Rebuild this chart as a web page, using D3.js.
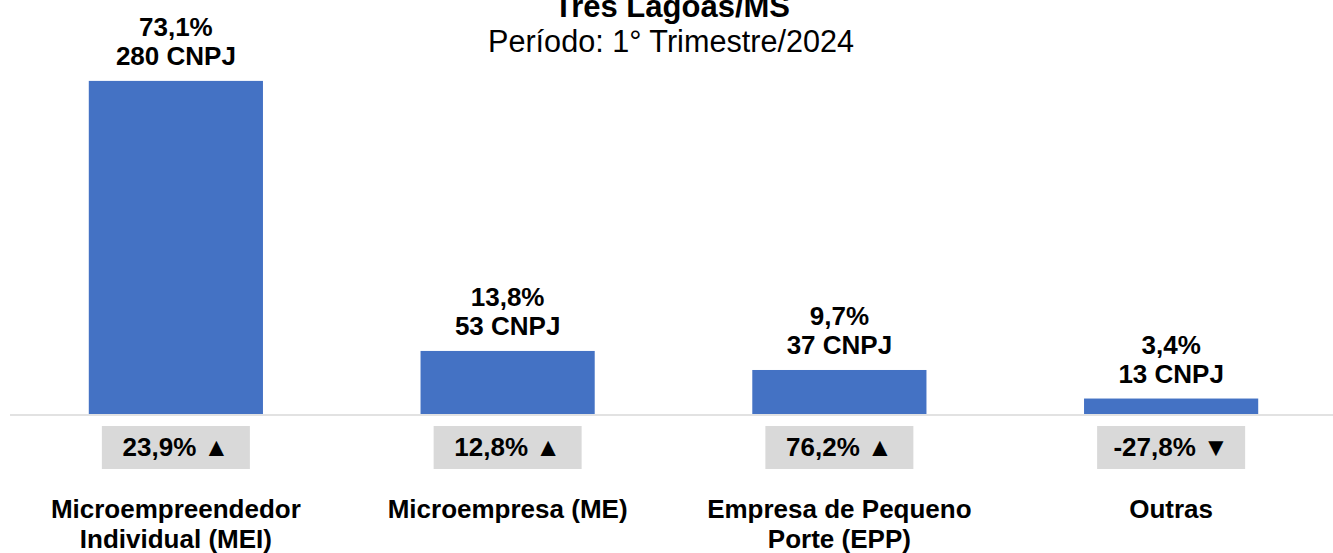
<!DOCTYPE html>
<html>
<head>
<meta charset="utf-8">
<script src="https://cdn.jsdelivr.net/npm/d3@7"></script>
<style>
  body { margin: 0; background: #fff; }
  text { font-family: "Liberation Sans", Arial, sans-serif; fill: #000; }
</style>
</head>
<body>
<svg id="chart"></svg>
<script>
// data
var categories = ["Microempreendedor Individual (MEI)", "Microempresa (ME)", "Empresa de Pequeno Porte (EPP)", "Outras"];
var categoryLines = [["Microempreendedor", "Individual (MEI)"], ["Microempresa (ME)"], ["Empresa de Pequeno", "Porte (EPP)"], ["Outras"]];
var cnpj = [280, 53, 37, 13];
var share = [73.1, 13.8, 9.7, 3.4];
var change = [23.9, 12.8, 76.2, -27.8];

var svgWidth = 1333, svgHeight = 553;
var baseY = 414;

var svg = d3.select('#chart')
    .attr("width", svgWidth)
    .attr("height", svgHeight);

var fmt = function (v) { return v.toFixed(1).replace('.', ','); };

// title (its top is cut off in the original too)
svg.append("text")
    .attr("x", 672).attr("y", 17)
    .attr("text-anchor", "middle")
    .style("font-size", "31px").style("font-weight", "bold")
    .text("Três Lagoas/MS");
svg.append("text")
    .attr("x", 671).attr("y", 52)
    .attr("text-anchor", "middle")
    .style("font-size", "30.6px")
    .text("Período: 1° Trimestre/2024");

var xScale = d3.scaleBand()
    .domain(categories)
    .range([10, 1337])
    .paddingInner(0.475)
    .paddingOuter(0.2375);

var yScale = d3.scaleLinear()
    .domain([0, 348])
    .range([baseY, 0]);

var rows = categories.map(function (c, i) {
    return { cat: c, lines: categoryLines[i], n: cnpj[i], pct: share[i], chg: change[i] };
});

// axis line
svg.append("line")
    .attr("x1", 10).attr("x2", svgWidth)
    .attr("y1", baseY + 1).attr("y2", baseY + 1)
    .attr("stroke", "#d9d9d9").attr("stroke-width", 1.5);

svg.selectAll("rect.bar")
    .data(rows)
    .enter()
    .append("rect")
    .attr("class", "bar")
    .attr("x", function (d) { return xScale(d.cat); })
    .attr("y", function (d) { return yScale(d.n); })
    .attr("width", xScale.bandwidth())
    .attr("height", function (d) { return baseY - yScale(d.n); })
    .attr("fill", "#4472c4");

var cx = function (d) { return xScale(d.cat) + xScale.bandwidth() / 2; };

// value labels
var lab = svg.selectAll("g.lab")
    .data(rows)
    .enter()
    .append("g")
    .attr("class", "lab");
lab.append("text")
    .attr("x", cx)
    .attr("y", function (d) { return yScale(d.n) - 45; })
    .attr("text-anchor", "middle")
    .style("font-size", "26px").style("font-weight", "bold")
    .text(function (d) { return fmt(d.pct) + "%"; });
lab.append("text")
    .attr("x", cx)
    .attr("y", function (d) { return yScale(d.n) - 16; })
    .attr("text-anchor", "middle")
    .style("font-size", "26px").style("font-weight", "bold")
    .text(function (d) { return d.n + " CNPJ"; });

// change boxes
var box = svg.selectAll("g.box")
    .data(rows)
    .enter()
    .append("g")
    .attr("class", "box");
box.append("rect")
    .attr("x", function (d) { return cx(d) - 74; })
    .attr("y", 426)
    .attr("width", 148)
    .attr("height", 43)
    .attr("fill", "#d9d9d9");
box.append("text")
    .attr("x", cx)
    .attr("y", 456)
    .attr("text-anchor", "middle")
    .style("font-size", "26px").style("font-weight", "bold")
    .text(function (d) { return fmt(d.chg) + "% " + (d.chg >= 0 ? "▲" : "▼"); });

// category labels
var cat = svg.selectAll("text.cat")
    .data(rows)
    .enter()
    .append("text")
    .attr("class", "cat")
    .attr("text-anchor", "middle")
    .style("font-size", "26px").style("font-weight", "bold");
cat.selectAll("tspan")
    .data(function (d) { return d.lines.map(function (l) { return { l: l, x: cx(d) }; }); })
    .enter()
    .append("tspan")
    .attr("x", function (d) { return d.x; })
    .attr("y", function (d, i) { return 518 + i * 30; })
    .text(function (d) { return d.l; });
</script>
</body>
</html>
